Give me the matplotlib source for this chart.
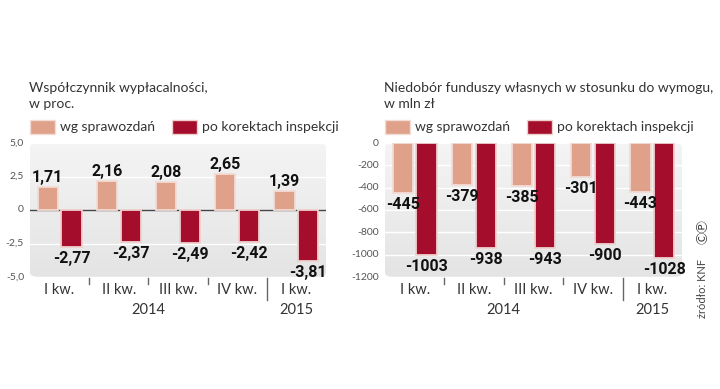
import numpy as np
import matplotlib.pyplot as plt
from matplotlib.patches import FancyBboxPatch, Rectangle
from matplotlib.transforms import blended_transform_factory

# dane
quarters = ['I kw.', 'II kw.', 'III kw.', 'IV kw.', 'I kw.']
years = ['2014', '2015']
solv_reported = [1.71, 2.16, 2.08, 2.65, 1.39]
solv_corrected = [-2.77, -2.37, -2.49, -2.42, -3.81]
short_reported = [-445, -379, -385, -301, -443]
short_corrected = [-1003, -938, -943, -900, -1028]

light = '#dfa189'
dark = '#a50d2c'
txt = '#333333'
W, H = 720, 389

num_font = ['Roboto', 'DejaVu Sans']
thin_font = ['Lato', 'DejaVu Sans']

fig = plt.figure(figsize=(7.2, 3.89), dpi=100)


def fx(px):
    return px / W


def fy(py):
    return 1 - py / H


def panel(x0, x1, ymin, ymax, ticks, ticklabels, rep, cor, fmt, title, label_below_light):
    ax = fig.add_axes([fx(x0), fy(277), fx(x1 - x0), (277 - 143) / H])
    ax.set_xlim(-0.5, 4.5)
    ax.set_ylim(ymin, ymax)
    ax.axis('off')

    # tlo z gradientem
    box = FancyBboxPatch((0, 0), 1, 1, boxstyle='round,pad=0,rounding_size=0.03',
                         transform=ax.transAxes, facecolor='none', edgecolor='none')
    ax.add_patch(box)
    grad = np.linspace(0, 1, 100).reshape(-1, 1)
    im = ax.imshow(grad, extent=[-0.5, 4.5, ymin, ymax], aspect='auto',
                   cmap=plt.matplotlib.colors.LinearSegmentedColormap.from_list('g', ['#f4f4f4', '#e4e4e4']),
                   origin='upper', zorder=0)
    im.set_clip_path(box)

    for t in ticks:
        ax.axhline(t, color='white', lw=1, zorder=1)
    for t, lab in zip(ticks, ticklabels):
        ax.text(-0.5 - 6 / 59.25, t, lab, ha='right', va='center', fontsize=7.5,
                color='#555555', family=thin_font)

    x = np.arange(len(rep))
    off, bw = 0.2, 0.34
    ax.bar(x - off, rep, bw, color=light, edgecolor='#f2dcd5', lw=1.3, zorder=2)
    ax.bar(x + off, cor, bw, color=dark, edgecolor='#efd0ce', lw=1.3, zorder=2)

    span = ymax - ymin
    for i, v in enumerate(rep):
        if label_below_light:
            ax.text(i - off, v - span * 0.03, fmt(v), ha='center', va='top', fontsize=11.5,
                    fontweight='bold', color='#111111', family=num_font, zorder=3)
        else:
            ax.text(i - off, v + span * 0.015, fmt(v), ha='center', va='bottom', fontsize=11.5,
                    fontweight='bold', color='#111111', family=num_font, zorder=3)
    for i, v in enumerate(cor):
        ax.text(i + off, v - span * 0.03, fmt(v), ha='center', va='top', fontsize=11.5,
                fontweight='bold', color='#111111', family=num_font, zorder=3)

    if ymin < 0 < ymax:
        ax.axhline(0, color='#444444', lw=1, zorder=1.5)

    tr = blended_transform_factory(ax.transData, ax.transAxes)
    for s in [0.5, 1.5, 2.5]:
        ax.plot([s, s], [-0.01, -0.05], color='#666666', lw=1, transform=tr, clip_on=False)
    ax.plot([3.5, 3.5], [-0.01, -0.17], color='#666666', lw=1, transform=tr, clip_on=False)
    for i, q in enumerate(quarters):
        ax.text(i, -0.1, q, ha='center', va='center', fontsize=10.5, color=txt,
                family=thin_font, transform=tr)
    ax.text(1.5, -0.245, years[0], ha='center', va='center', fontsize=10.5, color=txt,
            family=thin_font, transform=tr)
    ax.text(4, -0.245, years[1], ha='center', va='center', fontsize=10.5, color=txt,
            family=thin_font, transform=tr)

    # tytul i legenda
    fig.text(fx(x0 - 1), fy(96), title, ha='left', va='center', fontsize=10, color=txt,
             family=thin_font, linespacing=1.3)
    lx = x0
    fig.patches.append(Rectangle((fx(lx), fy(134)), fx(25), 14 / H, transform=fig.transFigure,
                                 facecolor=light, edgecolor='#f2dcd5', lw=1))
    fig.text(fx(lx + 30), fy(127), 'wg sprawozdań', ha='left', va='center', fontsize=10,
             color=txt, family=thin_font)
    lx2 = x0 + 142
    fig.patches.append(Rectangle((fx(lx2), fy(134)), fx(25), 14 / H, transform=fig.transFigure,
                                 facecolor=dark, edgecolor='#efd0ce', lw=1))
    fig.text(fx(lx2 + 30), fy(127), 'po korektach inspekcji', ha='left', va='center',
             fontsize=10, color=txt, family=thin_font)
    return ax


def fmt_pct(v):
    return f'{v:.2f}'.replace('.', ',')


def fmt_int(v):
    return f'{v:d}'


panel(30, 326, -5, 5, [5, 2.5, 0, -2.5, -5], ['5,0', '2,5', '0', '-2,5', '-5,0'],
      solv_reported, solv_corrected, fmt_pct, 'Współczynnik wypłacalności,\nw proc.', False)
panel(385, 682, -1200, 0, [0, -200, -400, -600, -800, -1000, -1200],
      ['0', '-200', '-400', '-600', '-800', '-1000', '-1200'],
      short_reported, short_corrected, fmt_int,
      'Niedobór funduszy własnych w stosunku do wymogu,\nw mln zł', True)

fig.text(fx(703), fy(318), 'źródło: KNF', rotation=90, ha='center', va='bottom', fontsize=8,
         color='#444444', family=thin_font)
fig.text(fx(703), fy(244), 'ⒸⓅ', rotation=90, ha='center', va='bottom', fontsize=9,
         color='#333333', family=['Noto Sans CJK JP', 'DejaVu Sans'])

fig.savefig('out.png', dpi=100)
